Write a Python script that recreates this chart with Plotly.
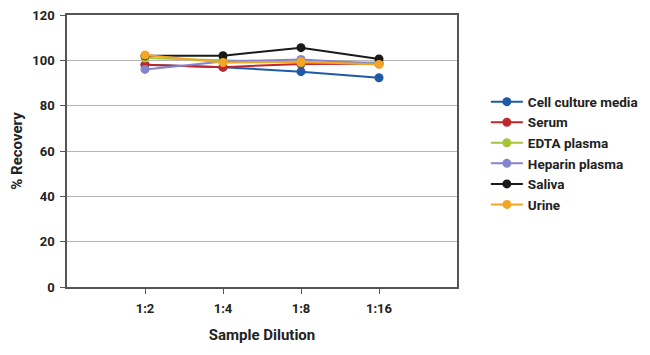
import plotly.graph_objects as go

dilutions = ["1:2", "1:4", "1:8", "1:16"]
cell_culture_media = [98, 97, 95, 92.3]
serum = [98, 97, 98.4, 98.5]
edta_plasma = [101, 100, 99, 99]
heparin_plasma = [96, 99.5, 100.4, 98.5]
saliva = [102, 102, 105.6, 100.6]
urine = [102.3, 99, 99.4, 98.2]

series = [
    ("Cell culture media", cell_culture_media, "#1f5aa6"),
    ("Serum", serum, "#c0272d"),
    ("EDTA plasma", edta_plasma, "#a5c43a"),
    ("Heparin plasma", heparin_plasma, "#8585cc"),
    ("Saliva", saliva, "#1a1a1a"),
    ("Urine", urine, "#f5a523"),
]

font_family = "Roboto, sans-serif"
txt = "#222"

fig = go.Figure()
for name, vals, color in series:
    fig.add_trace(go.Scatter(
        x=dilutions, y=vals, name=name, mode="lines+markers",
        line=dict(color=color, width=2),
        marker=dict(color=color, size=9),
    ))

fig.update_layout(
    width=650, height=355,
    margin=dict(l=59, r=201, t=7, b=76, autoexpand=False),
    paper_bgcolor="white", plot_bgcolor="white",
    font=dict(family=font_family, size=13, color=txt, weight="bold"),
    legend=dict(x=1.074, xanchor="left", y=0.7375, yanchor="top",
                font=dict(family=font_family, size=13.5, color=txt, weight="bold"),
                tracegroupgap=0, itemwidth=32),
    xaxis=dict(
        type="category", range=[-1, 4], automargin=False,
        showline=True, linecolor="#555", linewidth=1.5, mirror=True,
        ticks="outside", ticklen=5, tickcolor="#555",
        ticklabelstandoff=4,
        showgrid=False,
        tickfont=dict(family=font_family, size=13, color=txt, weight="bold"),
        title=dict(text="Sample Dilution", font=dict(family=font_family, size=15, color=txt, weight="bold"), standoff=14),
    ),
    yaxis=dict(
        range=[0, 120], dtick=20, automargin=False,
        showline=True, linecolor="#555", linewidth=1.5, mirror=True,
        ticks="outside", ticklen=5, tickcolor="#555",
        ticklabelstandoff=3, ticklabeloverflow="allow",
        showgrid=True, gridcolor="#b5b5b5", gridwidth=1,
        zeroline=False,
        tickfont=dict(family=font_family, size=13, color=txt, weight="bold"),
        title=dict(text="% Recovery", font=dict(family=font_family, size=15, color=txt, weight="bold"), standoff=6),
    ),
)

fig.write_html("out.html")
